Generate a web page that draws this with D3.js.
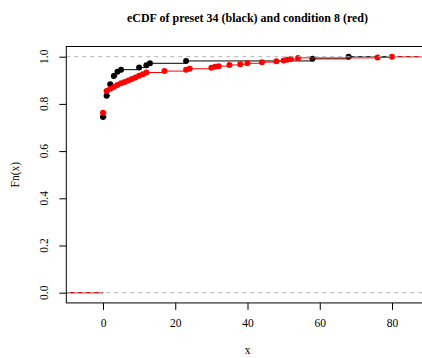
<!DOCTYPE html>
<html><head><meta charset="utf-8">
<script src="https://cdn.jsdelivr.net/npm/d3@7"></script>
<style>body{margin:0;background:#fff}svg{display:block}</style>
</head><body>
<script>
const titleText = "eCDF of preset 34 (black) and condition 8 (red)";
const xTicks = [0, 20, 40, 60, 80];
const yTicks = [0, 0.2, 0.4, 0.6, 0.8, 1.0];
const presetX = [0, 1, 2, 3, 4, 5, 10, 12, 13, 23, 58, 68];
const presetF = [0.745, 0.835, 0.883, 0.918, 0.936, 0.945, 0.954, 0.964, 0.972, 0.982, 0.991, 1.0];
const condX = [0, 1, 2, 3, 4, 5, 6, 7, 8, 9, 10, 11, 12, 17, 23, 24, 30, 31, 32, 35, 38, 40, 44, 48, 50, 51, 52, 54, 76, 80];
const condF = [0.762, 0.855, 0.864, 0.872, 0.880, 0.887, 0.893, 0.899, 0.905, 0.912, 0.919, 0.926, 0.933, 0.939, 0.945, 0.949, 0.953, 0.957, 0.960, 0.965, 0.968, 0.972, 0.977, 0.981, 0.984, 0.987, 0.990, 0.995, 0.997, 1.0];

const W = 422, H = 358;
const svg = d3.select("body").append("svg").attr("width", W).attr("height", H);
const x = d3.scaleLinear().domain([0, 80]).range([103, 392]);
const y = d3.scaleLinear().domain([0, 1]).range([292.7, 56.7]);
const xmin = -10.16, xmax = 90.16, ymin = -0.0433, ymax = 1.0433;
const font = "'Liberation Serif', 'Times New Roman', serif";

svg.append("clipPath").attr("id", "clip").append("rect")
  .attr("x", x(xmin)).attr("y", y(ymax))
  .attr("width", x(xmax) - x(xmin)).attr("height", y(ymin) - y(ymax));
const g = svg.append("g").attr("clip-path", "url(#clip)");

function drawEcdf(xs, fs, color) {
  const steps = [{x0: xmin - 20, x1: xs[0], f: 0}];
  xs.forEach((v, i) => steps.push({x0: v, x1: i < xs.length - 1 ? xs[i + 1] : xmax + 20, f: fs[i]}));
  g.selectAll(null).data(steps).enter().append("line")
    .attr("x1", d => x(d.x0)).attr("x2", d => x(d.x1))
    .attr("y1", d => y(d.f)).attr("y2", d => y(d.f))
    .attr("stroke", color).attr("stroke-width", 1);
  g.selectAll(null).data(xs.map((v, i) => [v, fs[i]])).enter().append("circle")
    .attr("cx", d => x(d[0])).attr("cy", d => y(d[1])).attr("r", 3)
    .attr("fill", color);
}
drawEcdf(presetX, presetF, "#000");
drawEcdf(condX, condF, "#ff0000");

[0, 1].forEach(v => {
  g.append("line").attr("x1", x(xmin)).attr("x2", x(xmax))
    .attr("y1", y(v)).attr("y2", y(v))
    .attr("stroke", "#b3b3b3").attr("stroke-width", 1).attr("stroke-dasharray", "4,4");
});

// box
svg.append("rect").attr("x", x(xmin)).attr("y", y(ymax))
  .attr("width", x(xmax) - x(xmin)).attr("height", y(ymin) - y(ymax))
  .attr("fill", "none").attr("stroke", "#000").attr("stroke-width", 1);

// x axis
const xAxis = svg.append("g").attr("transform", `translate(0,${y(ymin)})`)
  .call(d3.axisBottom(x).tickValues(xTicks).tickSize(7).tickPadding(9).tickFormat(d3.format("d")));
xAxis.select(".domain").remove();
xAxis.selectAll("text").attr("font-family", font).attr("font-size", 11.5).attr("fill", "#000");

// y axis
const yAxis = svg.append("g").attr("transform", `translate(${x(xmin)},0)`)
  .call(d3.axisLeft(y).tickValues(yTicks).tickSize(7).tickFormat(d3.format(".1f")));
yAxis.select(".domain").remove();
yAxis.selectAll("text").remove();
yTicks.forEach(v => {
  svg.append("text").attr("transform", `translate(48,${y(v)}) rotate(-90)`)
    .attr("text-anchor", "middle").attr("font-family", font).attr("font-size", 11.5)
    .text(d3.format(".1f")(v));
});

svg.append("text").attr("x", (x(xmin) + x(xmax)) / 2).attr("y", 22)
  .attr("text-anchor", "middle").attr("font-family", font).attr("font-size", 12)
  .attr("font-weight", "bold").text(titleText);
svg.append("text").attr("x", (x(xmin) + x(xmax)) / 2).attr("y", 354)
  .attr("text-anchor", "middle").attr("font-family", font).attr("font-size", 11.5).text("x");
svg.append("text").attr("transform", `translate(19,${(y(ymin) + y(ymax)) / 2}) rotate(-90)`)
  .attr("text-anchor", "middle").attr("font-family", font).attr("font-size", 11.5).text("Fn(x)");
</script>
</body></html>
